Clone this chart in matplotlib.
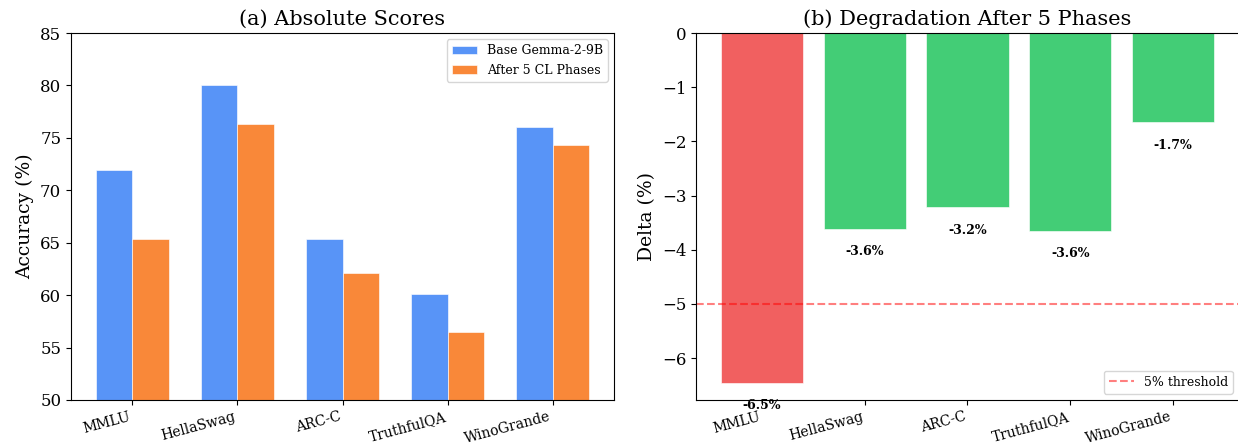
import matplotlib
matplotlib.use("Agg")
import matplotlib.pyplot as plt
import numpy as np

plt.rcParams['font.family'] = 'DejaVu Serif'

benchmarks = ["MMLU", "HellaSwag", "ARC-C", "TruthfulQA", "WinoGrande"]
base_scores = [71.9, 80.0, 65.35, 60.15, 76.0]
after_scores = [65.4, 76.35, 62.1, 56.5, 74.35]
deltas = [-6.45, -3.62, -3.22, -3.65, -1.65]
delta_labels = ["-6.5%", "-3.6%", "-3.2%", "-3.6%", "-1.7%"]
threshold = -5

fig = plt.figure(figsize=(12.38, 4.45), dpi=100)
W, H = 1238, 445
ax1 = fig.add_axes([71 / W, 1 - 400 / H, (614 - 71) / W, (400 - 33) / H])
ax2 = fig.add_axes([696 / W, 1 - 400 / H, (1239 - 696) / W, (400 - 33) / H])

x = np.arange(len(benchmarks))
w = 0.35
ax1.bar(x - w / 2, base_scores, w, label="Base Gemma-2-9B", color="#3b82f6",
        alpha=0.85, edgecolor="white", linewidth=0.5)
ax1.bar(x + w / 2, after_scores, w, label="After 5 CL Phases", color="#f97316",
        alpha=0.85, edgecolor="white", linewidth=0.5)
ax1.set_ylim(50, 85)
ax1.set_xticks(x)
ax1.set_xticklabels(benchmarks, rotation=15, ha="right", fontsize=10)
ax1.tick_params(axis="y", labelsize=12)
ax1.set_ylabel("Accuracy (%)", fontsize=13.5)
ax1.set_title("(a) Absolute Scores", fontsize=15)
ax1.legend(loc="upper right", fontsize=9)

colors = ["#ef4444" if d < threshold else "#22c55e" for d in deltas]
ax2.bar(x, deltas, 0.8, color=colors, alpha=0.85, edgecolor="white", linewidth=0.5)
ax2.axhline(threshold, color="red", linestyle="--", alpha=0.5, linewidth=1.5,
            label="5% threshold")
for xi, d, lab in zip(x, deltas, delta_labels):
    ax2.text(xi, d - 0.3, lab, ha="center", va="top", fontsize=9, fontweight="bold")
ax2.set_ylim(min(deltas) * 1.05, 0)
ax2.set_xticks(x)
ax2.set_xticklabels(benchmarks, rotation=15, ha="right", fontsize=10)
ax2.tick_params(axis="y", labelsize=12)
ax2.set_ylabel("Delta (%)", fontsize=13.5)
ax2.set_title("(b) Degradation After 5 Phases", fontsize=15)
ax2.legend(loc="lower right", fontsize=9)

fig.savefig("out.png", dpi=100)
